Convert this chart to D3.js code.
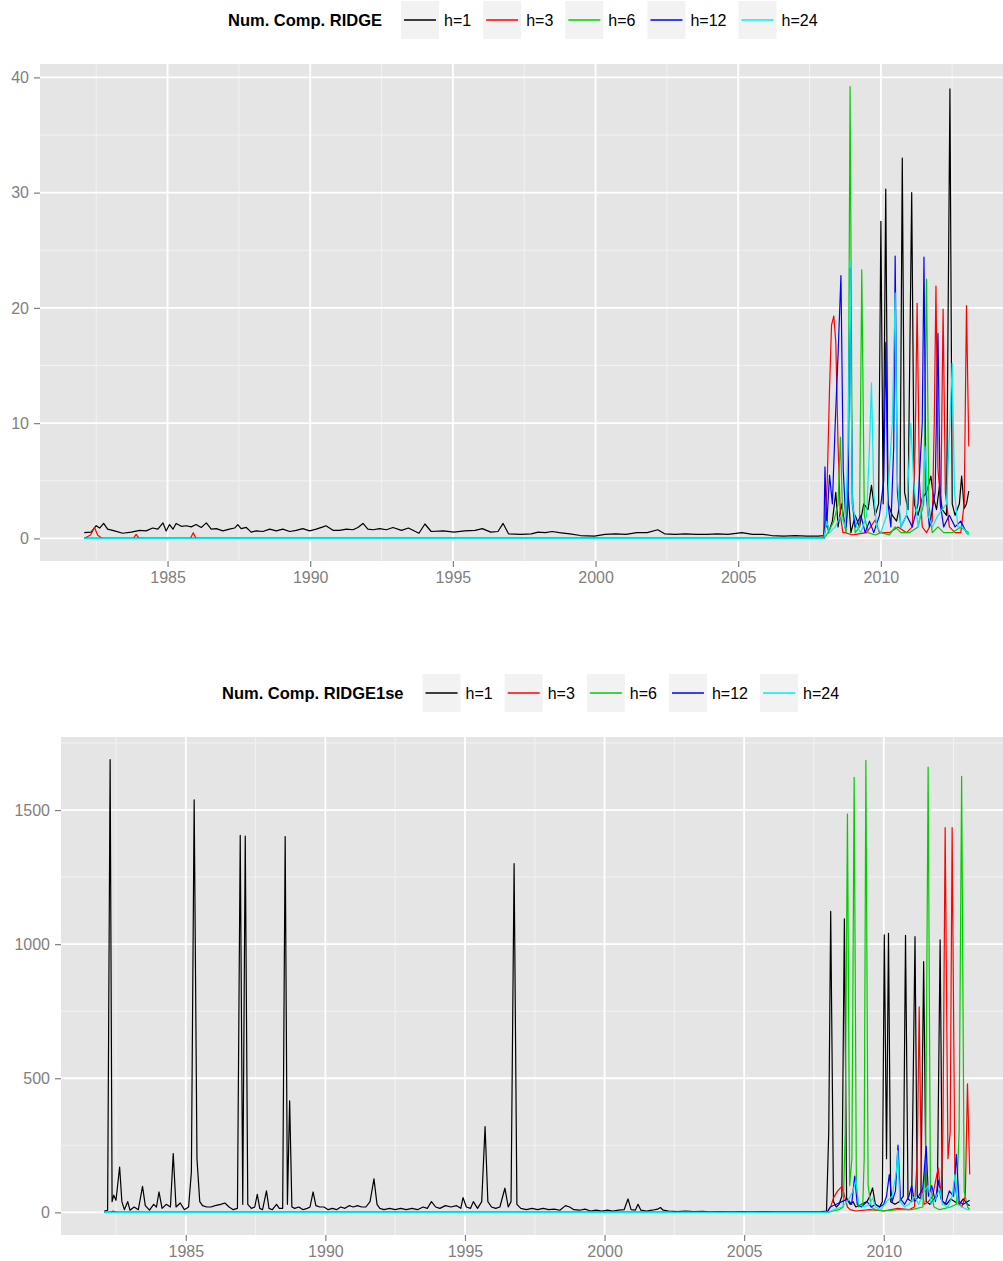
<!DOCTYPE html>
<html>
<head>
<meta charset="utf-8">
<script src="https://cdn.jsdelivr.net/npm/d3@7"></script>
<style>
  body { margin: 0; background: #fff; }
  text { font-family: "Liberation Sans", Arial, sans-serif; }
</style>
</head>
<body>
<svg id="chart" width="1003" height="1261"></svg>
<script>
(function() {

// Legend labels and colours (one per forecast horizon).
const hLabels = ["h=1", "h=3", "h=6", "h=12", "h=24"];
const hColors = ["#000000", "#ff0000", "#00cd00", "#0000ff", "#00eeee"];

// Tick labels.
const xTicks = [1985, 1990, 1995, 2000, 2005, 2010];
const yTicksRidge = [0, 10, 20, 30, 40];
const yTicksRidge1se = [0, 500, 1000, 1500];

// Series as [decimal year, value].
// Panel 1: Num. Comp. RIDGE
const ridge_h1 = [
  [1982.08, 0.5], [1982.32, 0.55], [1982.5, 1.1], [1982.62, 0.9], [1982.76, 1.3], [1982.9, 0.8],
  [1983.14, 0.65], [1983.43, 0.45], [1983.73, 0.55], [1984.02, 0.7], [1984.25, 0.65], [1984.48, 0.9],
  [1984.66, 0.8], [1984.84, 1.35], [1984.95, 0.65], [1985.07, 1.2], [1985.19, 0.8], [1985.3, 1.3],
  [1985.48, 1.05], [1985.66, 1.1], [1985.83, 1.0], [1986.0, 1.2], [1986.18, 0.95], [1986.36, 1.35],
  [1986.53, 0.8], [1986.71, 0.85], [1986.94, 0.65], [1987.17, 0.8], [1987.35, 0.9], [1987.46, 1.2],
  [1987.58, 0.85], [1987.76, 0.95], [1987.93, 0.55], [1988.11, 0.65], [1988.34, 0.6], [1988.58, 0.8],
  [1988.81, 0.65], [1989.04, 0.8], [1989.28, 0.6], [1989.51, 0.7], [1989.74, 0.85], [1989.98, 0.65],
  [1990.21, 0.8], [1990.45, 1.0], [1990.55, 1.1], [1990.8, 0.7], [1991.03, 0.7], [1991.27, 0.8],
  [1991.5, 0.75], [1991.67, 0.95], [1991.85, 1.3], [1992.02, 0.8], [1992.2, 0.75], [1992.43, 0.85],
  [1992.67, 0.75], [1992.9, 0.95], [1993.2, 0.7], [1993.44, 0.9], [1993.81, 0.45], [1994.02, 1.25],
  [1994.24, 0.6], [1994.67, 0.65], [1995.04, 0.55], [1995.41, 0.65], [1995.78, 0.7], [1996.03, 0.85],
  [1996.33, 0.55], [1996.58, 0.6], [1996.76, 1.3], [1996.95, 0.4], [1997.38, 0.35], [1997.75, 0.4],
  [1997.99, 0.55], [1998.24, 0.5], [1998.48, 0.6], [1998.73, 0.5], [1999.1, 0.4], [1999.47, 0.25],
  [1999.96, 0.2], [2000.33, 0.35], [2000.7, 0.4], [2001.07, 0.35], [2001.44, 0.5], [2001.81, 0.5],
  [2002.18, 0.75], [2002.42, 0.4], [2002.79, 0.35], [2003.16, 0.4], [2003.53, 0.35], [2003.9, 0.35],
  [2004.27, 0.4], [2004.64, 0.35], [2005.13, 0.5], [2005.5, 0.35], [2005.87, 0.35], [2006.17, 0.25],
  [2006.6, 0.2], [2007.0, 0.25], [2007.4, 0.2], [2007.8, 0.2], [2008.0, 0.25], [2008.08, 2.0],
  [2008.17, 0.5], [2008.3, 1.5], [2008.42, 4.0], [2008.5, 1.0], [2008.62, 3.0], [2008.75, 1.0],
  [2008.85, 4.0], [2008.95, 0.5], [2009.1, 2.0], [2009.25, 1.0], [2009.4, 3.0], [2009.55, 2.5],
  [2009.67, 4.6], [2009.8, 2.0], [2009.92, 3.0], [2010.0, 27.5], [2010.08, 3.0], [2010.17, 30.3],
  [2010.25, 3.0], [2010.4, 2.0], [2010.55, 1.5], [2010.67, 3.0], [2010.75, 33.0], [2010.83, 4.0],
  [2010.95, 2.5], [2011.08, 30.0], [2011.17, 3.0], [2011.3, 2.0], [2011.45, 3.5], [2011.6, 4.0],
  [2011.75, 5.4], [2011.85, 3.5], [2011.95, 2.5], [2012.05, 4.5], [2012.15, 2.5], [2012.3, 2.0],
  [2012.42, 39.0], [2012.5, 3.0], [2012.6, 2.0], [2012.75, 3.0], [2012.83, 5.4], [2012.92, 2.6],
  [2013.0, 3.0], [2013.08, 4.1]
];
const ridge_h3 = [
  [1982.08, 0], [1982.3, 0.3], [1982.44, 0.95], [1982.55, 0.3], [1982.7, 0], [1983.8, 0],
  [1983.9, 0.35], [1984.0, 0], [1985.8, 0], [1985.9, 0.5], [1986.0, 0], [2007.95, 0],
  [2008.04, 0.5], [2008.12, 5.0], [2008.2, 13.0], [2008.27, 18.5], [2008.35, 19.3], [2008.42, 17.0],
  [2008.5, 8.0], [2008.58, 2.0], [2008.67, 0.5], [2008.75, 0.5], [2009.0, 0.3], [2009.5, 0.5],
  [2009.8, 1.6], [2009.95, 0.5], [2010.3, 0.5], [2010.6, 1.0], [2010.9, 0.5], [2011.1, 1.0],
  [2011.2, 8.0], [2011.27, 20.4], [2011.35, 5.0], [2011.45, 1.0], [2011.6, 0.5], [2011.8, 1.5],
  [2011.87, 10.0], [2011.93, 21.9], [2012.0, 6.0], [2012.1, 3.0], [2012.18, 19.9], [2012.26, 4.0],
  [2012.4, 1.0], [2012.6, 0.5], [2012.8, 0.5], [2012.92, 3.0], [2013.0, 20.2], [2013.08, 8.0]
];
const ridge_h6 = [
  [1982.08, 0], [2008.0, 0], [2008.15, 0.5], [2008.35, 1.5], [2008.5, 3.0], [2008.58, 8.8],
  [2008.66, 2.0], [2008.78, 0.5], [2008.85, 5.0], [2008.92, 39.2], [2009.0, 4.0], [2009.1, 0.5],
  [2009.25, 1.0], [2009.33, 23.3], [2009.42, 2.0], [2009.55, 0.5], [2009.8, 0.3], [2010.0, 0.5],
  [2010.3, 0.3], [2010.5, 1.0], [2010.7, 0.5], [2011.0, 0.5], [2011.3, 1.0], [2011.5, 3.0],
  [2011.6, 22.5], [2011.68, 3.0], [2011.8, 0.5], [2012.0, 1.0], [2012.2, 0.5], [2012.5, 0.5],
  [2012.8, 1.0], [2013.08, 0.5]
];
const ridge_h12 = [
  [1982.08, 0], [2008.0, 0], [2008.04, 6.2], [2008.1, 1.0], [2008.2, 5.5], [2008.3, 3.0],
  [2008.4, 10.0], [2008.5, 16.0], [2008.6, 22.8], [2008.68, 6.0], [2008.78, 1.0], [2008.85, 3.0],
  [2008.92, 23.4], [2009.0, 3.0], [2009.1, 1.0], [2009.3, 2.0], [2009.45, 0.5], [2009.6, 1.5],
  [2009.75, 0.5], [2009.95, 2.0], [2010.1, 5.0], [2010.17, 17.0], [2010.25, 3.0], [2010.35, 1.0],
  [2010.45, 8.0], [2010.5, 24.5], [2010.58, 4.0], [2010.7, 1.0], [2010.9, 2.0], [2011.1, 1.0],
  [2011.3, 3.0], [2011.45, 10.0], [2011.51, 24.4], [2011.58, 4.0], [2011.7, 1.0], [2011.9, 4.0],
  [2012.0, 17.8], [2012.08, 3.0], [2012.2, 1.0], [2012.4, 2.0], [2012.6, 1.0], [2012.8, 1.5],
  [2013.0, 0.5], [2013.08, 0.3]
];
const ridge_h24 = [
  [1982.08, 0], [2008.0, 0], [2008.1, 1.5], [2008.2, 0.5], [2008.4, 1.0], [2008.6, 2.0],
  [2008.75, 1.0], [2008.85, 8.0], [2008.92, 24.0], [2009.0, 3.0], [2009.15, 1.0], [2009.3, 0.5],
  [2009.5, 2.0], [2009.6, 8.0], [2009.67, 13.5], [2009.75, 4.0], [2009.85, 1.0], [2010.0, 0.5],
  [2010.2, 2.0], [2010.4, 10.0], [2010.5, 21.3], [2010.58, 5.0], [2010.7, 1.0], [2010.9, 2.0],
  [2011.05, 10.0], [2011.15, 5.0], [2011.3, 1.0], [2011.45, 3.0], [2011.55, 8.0], [2011.65, 2.0],
  [2011.8, 1.0], [2012.0, 2.0], [2012.3, 3.0], [2012.45, 12.0], [2012.5, 15.2], [2012.58, 4.0],
  [2012.7, 1.0], [2012.85, 1.0], [2013.08, 0.3]
];

// Panel 2: Num. Comp. RIDGE1se
const ridge1se_h1 = [
  [1982.08, 5], [1982.2, 8], [1982.29, 1688], [1982.36, 40], [1982.42, 64], [1982.5, 45],
  [1982.63, 169], [1982.71, 40], [1982.8, 10], [1982.92, 40], [1983.0, 8], [1983.15, 20],
  [1983.3, 10], [1983.45, 97], [1983.55, 25], [1983.7, 8], [1983.85, 30], [1983.95, 20],
  [1984.04, 76], [1984.15, 15], [1984.3, 30], [1984.45, 20], [1984.55, 219], [1984.65, 20],
  [1984.8, 35], [1984.95, 10], [1985.1, 20], [1985.2, 150], [1985.3, 1538], [1985.4, 200],
  [1985.5, 40], [1985.6, 25], [1985.75, 20], [1985.9, 20], [1986.05, 25], [1986.25, 30],
  [1986.4, 35], [1986.55, 20], [1986.7, 10], [1986.85, 15], [1986.95, 1406], [1987.04, 30],
  [1987.13, 1403], [1987.22, 30], [1987.35, 15], [1987.47, 20], [1987.56, 67], [1987.65, 15],
  [1987.75, 10], [1987.89, 80], [1987.98, 15], [1988.1, 10], [1988.25, 30], [1988.35, 15],
  [1988.47, 15], [1988.56, 1401], [1988.64, 30], [1988.72, 416], [1988.8, 20], [1988.9, 15],
  [1989.05, 20], [1989.2, 10], [1989.35, 15], [1989.45, 20], [1989.56, 76], [1989.66, 25],
  [1989.8, 20], [1989.95, 20], [1990.1, 10], [1990.25, 15], [1990.4, 10], [1990.55, 20],
  [1990.7, 15], [1990.85, 25], [1991.0, 20], [1991.15, 25], [1991.3, 20], [1991.45, 20],
  [1991.6, 40], [1991.74, 125], [1991.85, 30], [1991.95, 15], [1992.1, 10], [1992.3, 15],
  [1992.5, 10], [1992.7, 15], [1992.9, 10], [1993.1, 15], [1993.3, 10], [1993.5, 20],
  [1993.65, 15], [1993.8, 40], [1993.95, 20], [1994.1, 15], [1994.3, 25], [1994.5, 20],
  [1994.7, 25], [1994.85, 15], [1994.93, 55], [1995.05, 20], [1995.2, 15], [1995.3, 40],
  [1995.45, 15], [1995.6, 40], [1995.72, 320], [1995.82, 40], [1995.95, 20], [1996.1, 15],
  [1996.25, 20], [1996.43, 90], [1996.55, 20], [1996.65, 40], [1996.76, 1300], [1996.86, 30],
  [1997.0, 15], [1997.2, 10], [1997.4, 15], [1997.6, 10], [1997.8, 15], [1998.0, 10],
  [1998.2, 12], [1998.4, 8], [1998.6, 25], [1998.75, 20], [1998.9, 10], [1999.1, 8],
  [1999.3, 12], [1999.5, 5], [1999.7, 8], [1999.9, 5], [2000.1, 8], [2000.3, 5],
  [2000.5, 8], [2000.7, 10], [2000.84, 50], [2000.95, 10], [2001.1, 8], [2001.2, 30],
  [2001.3, 8], [2001.5, 5], [2001.7, 8], [2001.9, 12], [2002.0, 18], [2002.1, 8],
  [2002.3, 5], [2002.6, 3], [2002.9, 5], [2003.2, 3], [2003.5, 4], [2003.8, 2],
  [2004.1, 3], [2004.5, 2], [2004.9, 3], [2005.3, 2], [2005.7, 3], [2006.1, 2],
  [2006.5, 2], [2006.9, 2], [2007.3, 2], [2007.7, 2], [2007.95, 5], [2008.03, 300],
  [2008.1, 1122], [2008.2, 40], [2008.3, 20], [2008.4, 30], [2008.5, 60], [2008.59, 1094],
  [2008.67, 50], [2008.8, 30], [2008.9, 40], [2009.0, 20], [2009.2, 30], [2009.4, 40],
  [2009.5, 60], [2009.6, 91], [2009.7, 30], [2009.85, 20], [2009.95, 40], [2010.02, 1035],
  [2010.1, 200], [2010.17, 1040], [2010.25, 40], [2010.4, 30], [2010.55, 40], [2010.7, 60],
  [2010.78, 1033], [2010.87, 50], [2011.0, 40], [2011.12, 1028], [2011.2, 60], [2011.33, 50],
  [2011.43, 935], [2011.52, 40], [2011.65, 30], [2011.8, 50], [2011.92, 60], [2012.02, 1016],
  [2012.1, 40], [2012.25, 30], [2012.4, 50], [2012.55, 40], [2012.7, 30], [2012.85, 50],
  [2013.0, 30], [2013.08, 25]
];
const ridge1se_h3 = [
  [1982.08, 0], [1982.3, 0], [1982.4, 5], [1982.5, 0], [2007.95, 0], [2008.1, 20],
  [2008.2, 54], [2008.35, 80], [2008.5, 97], [2008.6, 60], [2008.7, 20], [2008.8, 10],
  [2009.0, 5], [2009.5, 10], [2010.0, 5], [2010.5, 15], [2010.9, 10], [2011.1, 20],
  [2011.2, 200], [2011.27, 766], [2011.35, 100], [2011.45, 30], [2011.6, 40], [2011.75, 60],
  [2011.95, 166], [2012.05, 60], [2012.12, 300], [2012.2, 1435], [2012.3, 200], [2012.38, 300],
  [2012.45, 1435], [2012.55, 100], [2012.65, 40], [2012.8, 20], [2012.92, 60], [2013.0, 479],
  [2013.08, 141]
];
const ridge1se_h6 = [
  [1982.08, 0], [2008.0, 0], [2008.2, 5], [2008.4, 10], [2008.55, 20], [2008.62, 300],
  [2008.7, 1485], [2008.78, 100], [2008.86, 200], [2008.94, 1622], [2009.02, 100], [2009.1, 20],
  [2009.25, 30], [2009.3, 200], [2009.36, 1685], [2009.44, 100], [2009.55, 20], [2009.7, 10],
  [2010.0, 5], [2010.5, 10], [2011.0, 10], [2011.4, 20], [2011.5, 200], [2011.59, 1660],
  [2011.67, 100], [2011.8, 20], [2012.0, 10], [2012.4, 20], [2012.6, 30], [2012.7, 300],
  [2012.79, 1626], [2012.88, 80], [2013.0, 20], [2013.08, 10]
];
const ridge1se_h12 = [
  [1982.08, 0], [2007.98, 0], [2008.08, 20], [2008.3, 30], [2008.5, 40], [2008.7, 50],
  [2008.85, 30], [2008.96, 135], [2009.05, 30], [2009.2, 20], [2009.4, 40], [2009.55, 20],
  [2009.7, 30], [2009.85, 20], [2010.0, 30], [2010.1, 60], [2010.2, 141], [2010.3, 40],
  [2010.42, 80], [2010.51, 251], [2010.6, 50], [2010.75, 30], [2010.9, 60], [2011.0, 100],
  [2011.1, 40], [2011.25, 60], [2011.4, 90], [2011.52, 246], [2011.6, 60], [2011.72, 100],
  [2011.85, 40], [2011.95, 120], [2012.05, 50], [2012.2, 30], [2012.35, 80], [2012.5, 60],
  [2012.6, 216], [2012.7, 40], [2012.85, 30], [2013.0, 40], [2013.08, 45]
];
const ridge1se_h24 = [
  [1982.08, 0], [2008.0, 0], [2008.2, 10], [2008.5, 20], [2008.7, 40], [2008.9, 80],
  [2009.0, 120], [2009.1, 30], [2009.3, 20], [2009.5, 30], [2009.6, 54], [2009.7, 20],
  [2009.9, 10], [2010.1, 40], [2010.3, 60], [2010.45, 150], [2010.5, 230], [2010.58, 40],
  [2010.75, 20], [2010.9, 30], [2011.1, 60], [2011.25, 30], [2011.45, 80], [2011.6, 100],
  [2011.7, 30], [2011.85, 50], [2012.0, 90], [2012.1, 30], [2012.3, 20], [2012.45, 60],
  [2012.55, 141], [2012.65, 30], [2012.8, 20], [2013.0, 10], [2013.08, 10]
];

let svg = d3.select("#chart");

let panels = [
  {
    id: "p1",
    title: "Num. Comp. RIDGE",
    series: [ridge_h1, ridge_h3, ridge_h6, ridge_h12, ridge_h24],
    yTicks: yTicksRidge,
    left: 40, right: 1013, top: 64, bottom: 561,
    legendX: 228, legendY: 20
  },
  {
    id: "p2",
    title: "Num. Comp. RIDGE1se",
    series: [ridge1se_h1, ridge1se_h3, ridge1se_h6, ridge1se_h12, ridge1se_h24],
    yTicks: yTicksRidge1se,
    left: 61, right: 1013, top: 737, bottom: 1235,
    legendX: 222, legendY: 693
  }
];

// ggplot pads the data range by 5% on each side.
function expand(ext) {
  let pad = (ext[1] - ext[0]) * 0.05;
  return [ext[0] - pad, ext[1] + pad];
}

// Minor grid lines sit halfway between the major ones.
function minorOf(ticks, domain) {
  let step = ticks[1] - ticks[0];
  let out = [];
  for (let t = ticks[0] - step / 2; t <= ticks[ticks.length - 1] + step; t += step) {
    if (t >= domain[0] && t <= domain[1]) out.push(t);
  }
  return out;
}

function drawPanel(p) {
  let all = p.series.flat();
  let x = d3.scaleLinear()
    .domain(expand(d3.extent(all, d => d[0])))
    .range([p.left, p.right]);
  let y = d3.scaleLinear()
    .domain(expand([0, d3.max(all, d => d[1])]))
    .range([p.bottom, p.top]);

  let g = svg.append("g");

  g.append("rect")
    .attr("x", p.left).attr("y", p.top)
    .attr("width", p.right - p.left).attr("height", p.bottom - p.top)
    .attr("fill", "#e5e5e5");

  let grid = g.append("g");
  minorOf(xTicks, x.domain()).forEach(t => {
    grid.append("line")
      .attr("x1", x(t)).attr("x2", x(t)).attr("y1", p.top).attr("y2", p.bottom)
      .attr("stroke", "#f2f2f2").attr("stroke-width", 1);
  });
  minorOf(p.yTicks, y.domain()).forEach(t => {
    grid.append("line")
      .attr("x1", p.left).attr("x2", p.right).attr("y1", y(t)).attr("y2", y(t))
      .attr("stroke", "#f2f2f2").attr("stroke-width", 1);
  });
  xTicks.forEach(t => {
    grid.append("line")
      .attr("x1", x(t)).attr("x2", x(t)).attr("y1", p.top).attr("y2", p.bottom)
      .attr("stroke", "#ffffff").attr("stroke-width", 1.8);
  });
  p.yTicks.forEach(t => {
    grid.append("line")
      .attr("x1", p.left).attr("x2", p.right).attr("y1", y(t)).attr("y2", y(t))
      .attr("stroke", "#ffffff").attr("stroke-width", 1.8);
  });

  g.append("clipPath").attr("id", "clip-" + p.id)
    .append("rect")
    .attr("x", p.left).attr("y", p.top)
    .attr("width", p.right - p.left).attr("height", p.bottom - p.top);

  let line = d3.line().x(d => x(d[0])).y(d => y(d[1]));
  let lines = g.append("g").attr("clip-path", "url(#clip-" + p.id + ")");
  p.series.forEach((s, i) => {
    lines.append("path")
      .attr("d", line(s))
      .attr("fill", "none")
      .attr("stroke", hColors[i])
      .attr("stroke-width", 1.2)
      .attr("stroke-linejoin", "round");
  });

  let xAxis = g.append("g")
    .attr("transform", "translate(0," + p.bottom + ")")
    .call(d3.axisBottom(x).tickValues(xTicks).tickFormat(d3.format("d")).tickSize(6).tickPadding(5));
  let yAxis = g.append("g")
    .attr("transform", "translate(" + p.left + ",0)")
    .call(d3.axisLeft(y).tickValues(p.yTicks).tickFormat(d3.format("d")).tickSize(6).tickPadding(5));
  [xAxis, yAxis].forEach(a => {
    a.select(".domain").remove();
    a.selectAll(".tick line").attr("stroke", "#7f7f7f").attr("stroke-width", 1.2);
    a.selectAll(".tick text")
      .attr("fill", "#7f7f7f")
      .style("font-size", "16px")
      .style("font-family", "'Liberation Sans', Arial, sans-serif");
  });

  // Legend, laid out left to right from the title.
  let lg = svg.append("g").attr("transform", "translate(" + p.legendX + "," + p.legendY + ")");
  let title = lg.append("text")
    .attr("x", 0).attr("y", 0).attr("dy", "0.35em")
    .style("font-size", "16.5px").style("font-weight", "bold")
    .attr("fill", "#000")
    .text(p.title);
  let cx = title.node().getComputedTextLength() + 19;
  let keyW = 38, keyH = 38;
  hLabels.forEach((lab, i) => {
    lg.append("rect")
      .attr("x", cx).attr("y", -keyH / 2)
      .attr("width", keyW).attr("height", keyH)
      .attr("fill", "#f2f2f2");
    lg.append("line")
      .attr("x1", cx + 3).attr("x2", cx + keyW - 3)
      .attr("y1", 0).attr("y2", 0)
      .attr("stroke", hColors[i]).attr("stroke-width", 1.4);
    let t = lg.append("text")
      .attr("x", cx + keyW + 5).attr("y", 0).attr("dy", "0.35em")
      .style("font-size", "16px").attr("fill", "#000")
      .text(lab);
    cx += keyW + 5 + t.node().getComputedTextLength() + 12;
  });
}

panels.forEach(drawPanel);

})();
</script>
</body>
</html>
